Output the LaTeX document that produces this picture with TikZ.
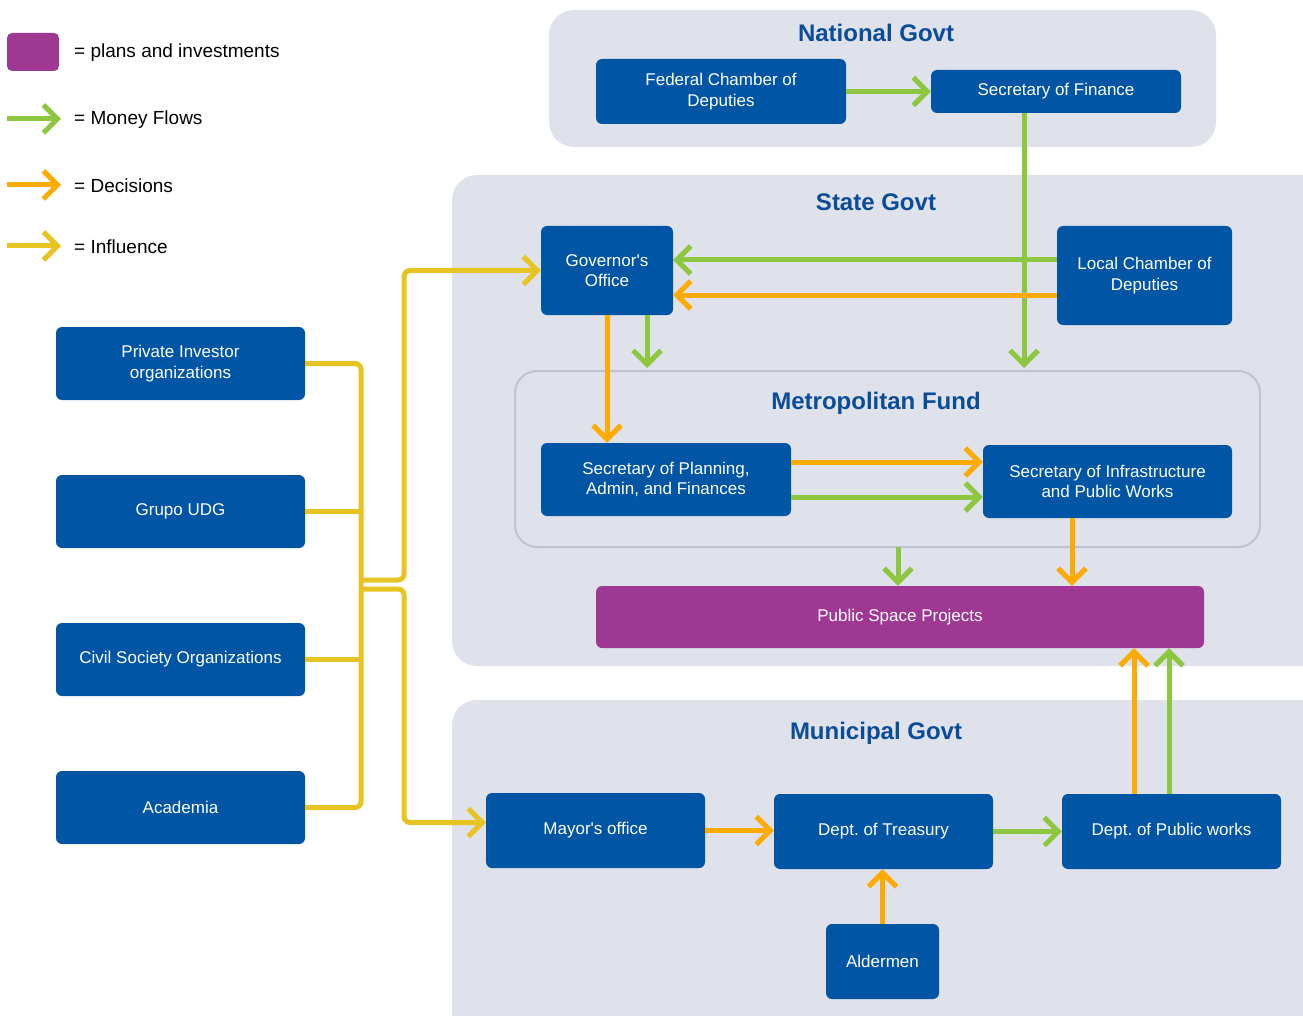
\documentclass[tikz,border=0pt]{standalone}
\usepackage{fontspec}
\setmainfont{Liberation Sans}[Ligatures=TeXOff]
\frenchspacing
\usetikzlibrary{arrows.meta,calc}
\definecolor{panelgray}{HTML}{DFE2EA}
\definecolor{metroborder}{HTML}{BFC3D4}
\definecolor{boxblue}{HTML}{0055A5}
\definecolor{titleblue}{HTML}{0B4C9A}
\definecolor{plumpurple}{HTML}{9E3893}
\definecolor{moneygreen}{HTML}{8DC63F}
\definecolor{decorange}{HTML}{FDAB00}
\definecolor{infyellow}{HTML}{E8C422}
\tikzset{
  orgbox/.style={fill=boxblue, rounded corners=6pt, inner sep=0pt, align=center,
    text=white, font=\fontsize{17}{20.5}\selectfont\frenchspacing},
  planbox/.style={orgbox, fill=plumpurple},
  panel/.style={fill=panelgray, rounded corners=25pt},
  paneltitle/.style={text=titleblue, font=\fontsize{24}{28}\selectfont\bfseries},
  legendtext/.style={anchor=west, inner sep=0pt, font=\fontsize{19}{23}\selectfont},
  flow/.style={line width=5pt, -{Straight Barb[length=14pt,width=28pt]}},
  money/.style={flow, draw=moneygreen},
  decision/.style={flow, draw=decorange},
  influence/.style={flow, draw=infyellow},
  influenceline/.style={line width=5pt, draw=infyellow},
}
\begin{document}
\begin{tikzpicture}[x=1pt,y=-1pt]
\useasboundingbox (0,0) rectangle (1303,1016);
\clip (0,0) rectangle (1303,1016);

% panels
\fill[panel] (549,10) rectangle (1216,147);
\fill[panel] (452,175) rectangle (1340,666);
\fill[panel] (452,700) rectangle (1340,1060);
\draw[fill=panelgray, draw=metroborder, line width=2pt, rounded corners=22pt] (515,371) rectangle (1260,547);

\node[paneltitle] (tnat) at (876,33) {National Govt};
\node[paneltitle] (tstate) at (876,202) {State Govt};
\node[paneltitle] (tmetro) at (876,403) {Metropolitan Fund};
\node[paneltitle] (tmun) at (876,733) {Municipal Govt};

% legend
\fill[plumpurple, rounded corners=5pt] (7,33) rectangle (59,71);
\node[legendtext] (lp) at (74,53) {= plans and investments};
\coordinate (lgs) at (7,119); \coordinate (lge) at (61,119);
\draw[money] (lgs) -- (lge);
\node[legendtext] (lm) at (74,120) {= Money Flows};
\coordinate (lds) at (7,185); \coordinate (lde) at (61,185);
\draw[decision] (lds) -- (lde);
\node[legendtext] (ld) at (74,186) {= Decisions};
\coordinate (lis) at (7,246); \coordinate (lie) at (61,246);
\draw[influence] (lis) -- (lie);
\node[legendtext] (li) at (74,247) {= Influence};

% boxes
\node[orgbox, minimum width=250, minimum height=65] (fed) at (721,91.5) {Federal Chamber of\\Deputies};
\node[orgbox, minimum width=250, minimum height=43] (sof) at (1056,91.5) {Secretary of Finance};
\node[orgbox, minimum width=132, minimum height=89] (gov) at (607,270.5) {Governor's\\Office};
\node[orgbox, minimum width=175, minimum height=99] (lcd) at (1144.5,275.5) {Local Chamber of\\Deputies};
\node[orgbox, minimum width=250, minimum height=73] (spa) at (666,479.5) {Secretary of Planning,\\Admin, and Finances};
\node[orgbox, minimum width=249, minimum height=73] (sip) at (1107.5,481.5) {Secretary of Infrastructure\\and Public Works};
\node[planbox, minimum width=608, minimum height=62] (psp) at (900,617) {Public Space Projects};
\node[orgbox, minimum width=219, minimum height=75] (mayor) at (595.5,830.5) {Mayor's office};
\node[orgbox, minimum width=219, minimum height=75] (treas) at (883.5,831.5) {Dept. of Treasury};
\node[orgbox, minimum width=219, minimum height=75] (pw) at (1171.5,831.5) {Dept. of Public works};
\node[orgbox, minimum width=113, minimum height=75] (ald) at (882.5,961.5) {Aldermen};

\node[orgbox, minimum width=249, minimum height=73] (pio) at (180.5,363.5) {Private Investor\\organizations};
\node[orgbox, minimum width=249, minimum height=73] (udg) at (180.5,511.5) {Grupo UDG};
\node[orgbox, minimum width=249, minimum height=73] (cso) at (180.5,659.5) {Civil Society Organizations};
\node[orgbox, minimum width=249, minimum height=73] (aca) at (180.5,807.5) {Academia};

% national / state flows
\draw[money] (fed.east) -- (sof.west);
\coordinate (m1) at (1024,368);
\draw[money] (sof.south -| m1) -- (m1);
\draw[money] ([yshift=15.5pt]lcd.west) -- ([yshift=15.5pt]lcd.west -| gov.east);
\draw[decision] ([yshift=-19.5pt]lcd.west) -- ([yshift=-19.5pt]lcd.west -| gov.east);
\coordinate (m2) at (647,368);
\draw[money] (gov.south -| m2) -- (m2);
\draw[decision] (gov.south) -- (gov.south |- spa.north);

% metropolitan fund flows
\draw[decision] ([yshift=17.5pt]spa.east) -- ([yshift=17.5pt]spa.east -| sip.west);
\draw[money] ([yshift=-17.5pt]spa.east) -- ([yshift=-17.5pt]spa.east -| sip.west);
\coordinate (m3) at (898,547);
\draw[money] (m3) -- (m3 |- psp.north);
\draw[decision] ([xshift=-35.5pt]sip.south) -- ([xshift=-35.5pt]sip.south |- psp.north);

% municipal flows
\draw[decision] (mayor.east) -- (mayor.east -| treas.west);
\draw[money] (treas.east) -- (pw.west);
\draw[decision] (ald.north) -- (ald.north |- treas.south);
\draw[decision] ([xshift=-37.5pt]pw.north) -- ([xshift=-37.5pt]pw.north |- psp.south);
\draw[money] ([xshift=-2.5pt]pw.north) -- ([xshift=-2.5pt]pw.north |- psp.south);

% influence
\coordinate (jt) at (361,580);
\coordinate (jb) at (361,589);
\coordinate (kt) at (404,400);
\coordinate (kb) at (404,700);
\draw[influenceline, rounded corners=6pt] (pio.east) -| (jt) |- (aca.east);
\draw[influenceline] (udg.east) -- (udg.east -| jt);
\draw[influenceline] (cso.east) -- (cso.east -| jt);
\draw[influence, rounded corners=6pt] (jt) -| (kt) |- (gov.west);
\draw[influence, rounded corners=6pt] (jb) -| (kb) |- ([yshift=8pt]mayor.west);
\end{tikzpicture}
\end{document}
